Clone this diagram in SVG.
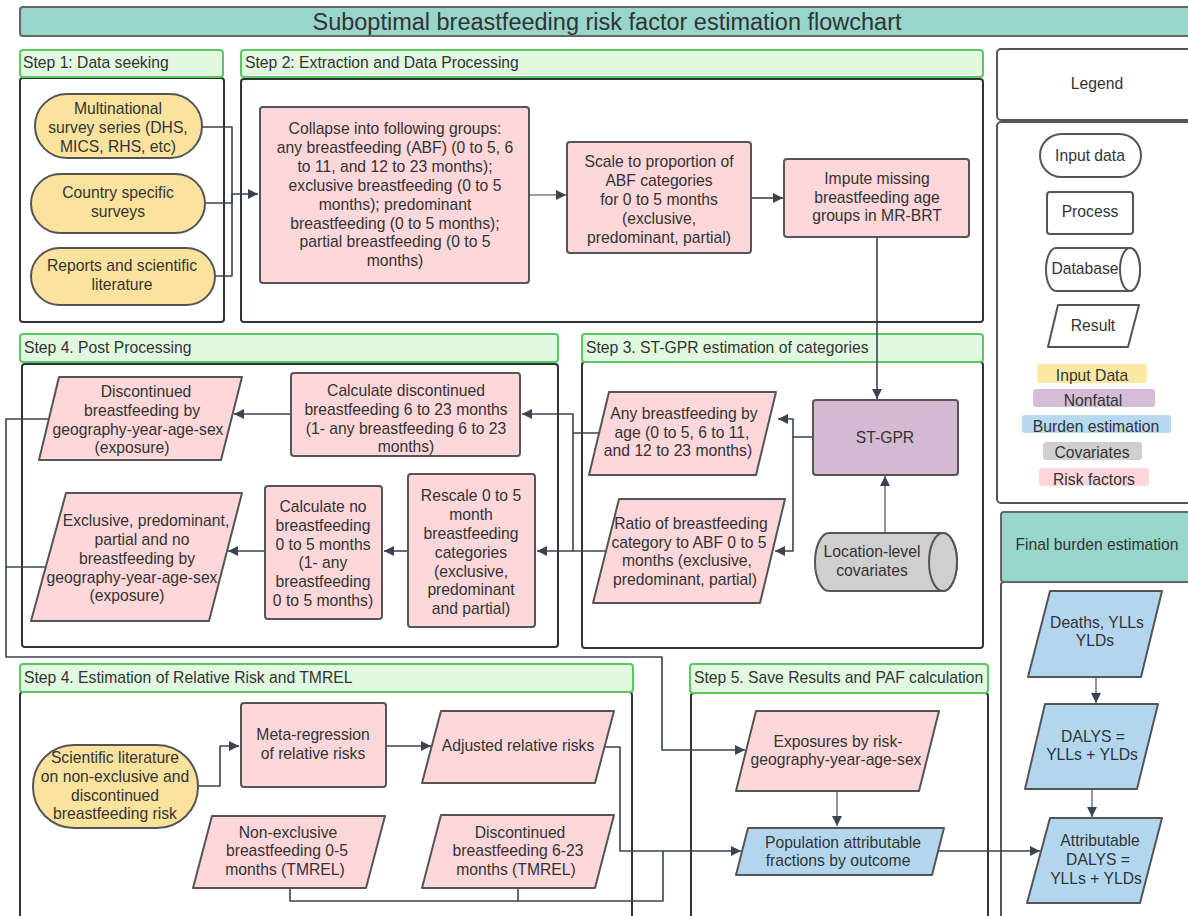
<svg xmlns="http://www.w3.org/2000/svg" width="1188" height="916" viewBox="0 0 1188 916">
<style>
text{font-family:"Liberation Sans",Arial,sans-serif;font-size:15.7px;fill:#333;}
.c{text-anchor:middle;dominant-baseline:central;}
.l{dominant-baseline:central;}
.hdr{fill:#e1f9e1;stroke:#5cc862;stroke-width:2;}
.body{fill:#fff;stroke:#2f333a;stroke-width:2;}
.wb{fill:#fff;stroke:#555;stroke-width:2;}
.in{fill:#fbe39e;stroke:#555;stroke-width:2;}
.rf{fill:#fdd7d9;stroke:#555;stroke-width:2;stroke-linejoin:round;}
.nf{fill:#d4b9d2;stroke:#555;stroke-width:2;}
.cv{fill:#cfcfcf;stroke:#555;stroke-width:2;}
.be{fill:#b3d6ef;stroke:#555;stroke-width:2;stroke-linejoin:round;}
.teal{fill:#98d5ca;stroke:#666;stroke-width:2;}
.conn path{fill:none;stroke:#3b4350;stroke-width:1.6;stroke-linejoin:round;}
.conn path.lt{stroke:#7a7f86;}
</style>
<defs>
<marker id="ah" viewBox="0 0 10 10" refX="10" refY="5" markerWidth="12" markerHeight="10" markerUnits="userSpaceOnUse" orient="auto">
<path d="M0,0 L10,5 L0,10 z" fill="#3b4350"/>
</marker>
</defs>
<rect width="1188" height="916" fill="#fff"/>

<g id="title">
<rect class="teal" x="20" y="7" width="1180" height="29" rx="3"/>
<text class="c" x="607" y="22" style="font-size:23.5px">Suboptimal breastfeeding risk factor estimation flowchart</text>
</g>

<!-- Step containers -->
<g id="step1">
<rect class="body" x="20" y="78" width="204" height="244" rx="3"/>
<rect class="hdr" x="20" y="50" width="203" height="27" rx="3"/>
<text class="l" x="23" y="62">Step 1: Data seeking</text>
</g>
<g id="step2">
<rect class="body" x="241" y="79" width="742" height="243" rx="3"/>
<rect class="hdr" x="241" y="50" width="742" height="27" rx="3"/>
<text class="l" x="245" y="62">Step 2: Extraction and Data Processing</text>
</g>
<g id="step4pp">
<rect class="body" x="22" y="364" width="536" height="283" rx="3"/>
<rect class="hdr" x="20" y="334" width="538" height="28" rx="3"/>
<text class="l" x="24" y="347">Step 4. Post Processing</text>
</g>
<g id="step3">
<rect class="body" x="582" y="362" width="401" height="286" rx="3"/>
<rect class="hdr" x="582" y="334" width="401" height="28" rx="3"/>
<text class="l" x="586" y="347">Step 3. ST-GPR estimation of categories</text>
</g>
<g id="step4rr">
<rect class="body" x="20" y="692" width="612" height="240" rx="3"/>
<rect class="hdr" x="20" y="664" width="613" height="28" rx="3"/>
<text class="l" x="24" y="677">Step 4. Estimation of Relative Risk and TMREL</text>
</g>
<g id="step5">
<rect class="body" x="691" y="693" width="297" height="240" rx="3"/>
<rect class="hdr" x="690" y="664" width="298" height="29" rx="3"/>
<text class="l" x="694" y="677">Step 5. Save Results and PAF calculation</text>
</g>

<!-- Legend -->
<g id="legend">
<rect class="wb" x="997" y="49" width="210" height="71" rx="4"/>
<text class="c" x="1097" y="83">Legend</text>
<rect class="wb" x="997" y="122" width="210" height="381" rx="4"/>
<rect class="wb" x="1040" y="134" width="101" height="43" rx="21.5"/>
<text class="c" x="1090" y="155">Input data</text>
<rect class="wb" x="1047" y="192" width="86" height="42" rx="3"/>
<text class="c" x="1090" y="211">Process</text>
<path class="wb" d="M1056,248 H1130 A10,21.5 0 0 1 1130,291 H1056 A10,21.5 0 0 1 1056,248 Z"/>
<ellipse class="wb" cx="1130" cy="269.5" rx="10" ry="21.5"/>
<text class="c" x="1085" y="268">Database</text>
<polygon class="wb" points="1058,305 1139,305 1128,347 1048,347" style="stroke-linejoin:round"/>
<text class="c" x="1093" y="325">Result</text>
<rect x="1037" y="364" width="110" height="19" rx="3" fill="#fde9a4"/>
<text class="c" x="1092" y="375">Input Data</text>
<rect x="1033" y="389" width="122" height="18" rx="3" fill="#d6bdd6"/>
<text class="c" x="1093" y="400">Nonfatal</text>
<rect x="1022" y="415" width="149" height="18" rx="3" fill="#b8d8f0"/>
<text class="c" x="1096" y="426">Burden estimation</text>
<rect x="1043" y="442" width="99" height="18" rx="3" fill="#cfcfcf"/>
<text class="c" x="1092" y="452">Covariates</text>
<rect x="1039" y="468" width="110" height="18" rx="3" fill="#ffd7da"/>
<text class="c" x="1094" y="479">Risk factors</text>
</g>

<g id="final-burden">
<rect class="wb" x="1001" y="582" width="210" height="350" rx="3"/>
<rect class="teal" x="1001" y="512" width="210" height="70" rx="3"/>
<text class="c" x="1097" y="544">Final burden estimation</text>
</g>

<!-- Connectors -->
<g id="connectors" class="conn">
<path d="M202,127 H232 V194 H258" marker-end="url(#ah)"/>
<path d="M205,203 H232 V194"/>
<path d="M215,276 H232 V194"/>
<path class="lt" d="M529,195 H566" marker-end="url(#ah)"/>
<path d="M751,198 H783" marker-end="url(#ah)"/>
<path d="M877,237 V399" marker-end="url(#ah)"/>
<path class="lt" d="M885,533 V476" marker-end="url(#ah)"/>
<path d="M813,437 H793 V419 H778" marker-end="url(#ah)"/>
<path d="M793,437 V551 H775" marker-end="url(#ah)"/>
<path d="M599,433 H573 V414 H522" marker-end="url(#ah)"/>
<path d="M573,433 V551 H537" marker-end="url(#ah)"/>
<path d="M606,551 H573"/>
<path d="M291,414 H234" marker-end="url(#ah)"/>
<path d="M408,551 H384" marker-end="url(#ah)"/>
<path d="M265,551 H228" marker-end="url(#ah)"/>
<path d="M49,419 H6 V657 H662 V750 H745" marker-end="url(#ah)"/>
<path d="M46,567 H6"/>
<path d="M198,786 H220 V746 H239" marker-end="url(#ah)"/>
<path d="M386,746 H431" marker-end="url(#ah)"/>
<path d="M605,747 H620 V851 H741" marker-end="url(#ah)"/>
<path d="M290,888 V901 H663 V851"/>
<path d="M518,888 V901"/>
<path class="lt" d="M837,791 V826" marker-end="url(#ah)"/>
<path d="M938,851 H1040" marker-end="url(#ah)"/>
<path class="lt" d="M1096,677 V703" marker-end="url(#ah)"/>
<path class="lt" d="M1092,789 V817" marker-end="url(#ah)"/>
</g>

<!-- Step 1 nodes -->
<g id="multinational">
<rect class="in" x="35" y="94" width="167" height="64" rx="32"/>
<text class="c" x="118" y="108">Multinational</text>
<text class="c" x="118" y="127">survey series (DHS,</text>
<text class="c" x="118" y="146">MICS, RHS, etc)</text>
</g>
<g id="country">
<rect class="in" x="31" y="174" width="174" height="59" rx="29.5"/>
<text class="c" x="118" y="192">Country specific</text>
<text class="c" x="118" y="211">surveys</text>
</g>
<g id="reports">
<rect class="in" x="31" y="248" width="184" height="57" rx="28.5"/>
<text class="c" x="122" y="265">Reports and scientific</text>
<text class="c" x="122" y="284">literature</text>
</g>

<!-- Step 2 nodes -->
<g id="collapse">
<rect class="rf" x="260" y="107" width="269" height="176" rx="3"/>
<text class="c" x="395" y="128">Collapse into following groups:</text>
<text class="c" x="395" y="147">any breastfeeding (ABF) (0 to 5, 6</text>
<text class="c" x="395" y="166">to 11, and 12 to 23 months);</text>
<text class="c" x="395" y="185">exclusive breastfeeding (0 to 5</text>
<text class="c" x="395" y="204">months); predominant</text>
<text class="c" x="395" y="223">breastfeeding (0 to 5 months);</text>
<text class="c" x="395" y="241">partial breastfeeding (0 to 5</text>
<text class="c" x="395" y="260">months)</text>
</g>
<g id="scale">
<rect class="rf" x="567" y="142" width="184" height="111" rx="3"/>
<text class="c" x="659" y="161">Scale to proportion of</text>
<text class="c" x="659" y="180">ABF categories</text>
<text class="c" x="659" y="199">for 0 to 5 months</text>
<text class="c" x="659" y="218">(exclusive,</text>
<text class="c" x="659" y="237">predominant, partial)</text>
</g>
<g id="impute">
<rect class="rf" x="784" y="159" width="185" height="78" rx="3"/>
<text class="c" x="877" y="178">Impute missing</text>
<text class="c" x="877" y="197">breastfeeding age</text>
<text class="c" x="877" y="215">groups in MR-BRT</text>
</g>

<!-- Step 3 nodes -->
<g id="stgpr">
<rect class="nf" x="813" y="400" width="145" height="75" rx="3"/>
<text class="c" x="885" y="437">ST-GPR</text>
</g>
<g id="covariates">
<path class="cv" d="M829,533 H943 A14,29 0 0 1 943,591 H829 A14,29 0 0 1 829,533 Z"/>
<ellipse class="cv" cx="943" cy="562" rx="14" ry="29"/>
<text class="c" x="872" y="551">Location-level</text>
<text class="c" x="872" y="570">covariates</text>
</g>
<g id="any-bf">
<polygon class="rf" points="609,392 776,392 756,475 589,475"/>
<text class="c" x="684" y="413">Any breastfeeding by</text>
<text class="c" x="682" y="432">age (0 to 5, 6 to 11,</text>
<text class="c" x="678" y="450">and 12 to 23 months)</text>
</g>
<g id="ratio">
<polygon class="rf" points="619,499 785,499 760,603 593,603"/>
<text class="c" x="691" y="523">Ratio of breastfeeding</text>
<text class="c" x="689" y="542">category to ABF 0 to 5</text>
<text class="c" x="687" y="560">months (exclusive,</text>
<text class="c" x="685" y="579">predominant, partial)</text>
</g>

<!-- Step 4 post processing nodes -->
<g id="calc-disc">
<rect class="rf" x="291" y="373" width="229" height="83" rx="3"/>
<text class="c" x="406" y="390">Calculate discontinued</text>
<text class="c" x="406" y="409">breastfeeding 6 to 23 months</text>
<text class="c" x="406" y="428">(1- any breastfeeding 6 to 23</text>
<text class="c" x="406" y="446">months)</text>
</g>
<g id="disc-exposure">
<polygon class="rf" points="59,377 242,377 221,460 39,460"/>
<text class="c" x="146" y="391">Discontinued</text>
<text class="c" x="142" y="410">breastfeeding by</text>
<text class="c" x="138" y="429">geography-year-age-sex</text>
<text class="c" x="132" y="447">(exposure)</text>
</g>
<g id="rescale">
<rect class="rf" x="408" y="474" width="127" height="153" rx="3"/>
<text class="c" x="471" y="495">Rescale 0 to 5</text>
<text class="c" x="471" y="514">month</text>
<text class="c" x="471" y="533">breastfeeding</text>
<text class="c" x="471" y="552">categories</text>
<text class="c" x="471" y="571">(exclusive,</text>
<text class="c" x="471" y="589">predominant</text>
<text class="c" x="471" y="608">and partial)</text>
</g>
<g id="calc-no">
<rect class="rf" x="265" y="486" width="117" height="133" rx="3"/>
<text class="c" x="323" y="506">Calculate no</text>
<text class="c" x="323" y="525">breastfeeding</text>
<text class="c" x="323" y="544">0 to 5 months</text>
<text class="c" x="323" y="562">(1- any</text>
<text class="c" x="323" y="581">breastfeeding</text>
<text class="c" x="323" y="600">0 to 5 months)</text>
</g>
<g id="excl-exposure">
<polygon class="rf" points="66,493 242,493 209,621 31,621"/>
<text class="c" x="146" y="520">Exclusive, predominant,</text>
<text class="c" x="142" y="539">partial and no</text>
<text class="c" x="137" y="558">breastfeeding by</text>
<text class="c" x="132" y="577">geography-year-age-sex</text>
<text class="c" x="127" y="595">(exposure)</text>
</g>

<!-- Step 4 RR nodes -->
<g id="sci-lit">
<rect class="in" x="33" y="745" width="165" height="83" rx="41"/>
<text class="c" x="115" y="757">Scientific literature</text>
<text class="c" x="115" y="776">on non-exclusive and</text>
<text class="c" x="115" y="795">discontinued</text>
<text class="c" x="115" y="813">breastfeeding risk</text>
</g>
<g id="meta">
<rect class="rf" x="241" y="703" width="145" height="84" rx="3"/>
<text class="c" x="313" y="734">Meta-regression</text>
<text class="c" x="313" y="753">of relative risks</text>
</g>
<g id="adjusted">
<polygon class="rf" points="441,711 614,711 595,783 422,783"/>
<text class="c" x="518" y="745">Adjusted relative risks</text>
</g>
<g id="nonexcl-tmrel">
<polygon class="rf" points="212,816 385,816 366,888 193,888"/>
<text class="c" x="288" y="832">Non-exclusive</text>
<text class="c" x="287" y="850">breastfeeding 0-5</text>
<text class="c" x="285" y="869">months (TMREL)</text>
</g>
<g id="disc-tmrel">
<polygon class="rf" points="441,815 614,815 595,888 422,888"/>
<text class="c" x="520" y="832">Discontinued</text>
<text class="c" x="518" y="850">breastfeeding 6-23</text>
<text class="c" x="516" y="869">months (TMREL)</text>
</g>

<!-- Step 5 nodes -->
<g id="exposures">
<polygon class="rf" points="756,711 939,711 919,791 736,791"/>
<text class="c" x="838" y="741">Exposures by risk-</text>
<text class="c" x="836" y="759">geography-year-age-sex</text>
</g>
<g id="paf">
<polygon class="be" points="748,828 944,828 932,875 736,875"/>
<text class="c" x="843" y="842">Population attributable</text>
<text class="c" x="838" y="860">fractions by outcome</text>
</g>

<!-- Final burden nodes -->
<g id="deaths">
<polygon class="be" points="1050,591 1162,591 1141,677 1028,677"/>
<text class="c" x="1097" y="622">Deaths, YLLs</text>
<text class="c" x="1095" y="640">YLDs</text>
</g>
<g id="dalys">
<polygon class="be" points="1045,704 1158,704 1137,789 1025,789"/>
<text class="c" x="1093" y="736">DALYS =</text>
<text class="c" x="1092" y="754">YLLs + YLDs</text>
</g>
<g id="attrib-dalys">
<polygon class="be" points="1050,818 1162,818 1140,903 1027,903"/>
<text class="c" x="1100" y="840">Attributable</text>
<text class="c" x="1098" y="859">DALYS =</text>
<text class="c" x="1096" y="878">YLLs + YLDs</text>
</g>
</svg>
